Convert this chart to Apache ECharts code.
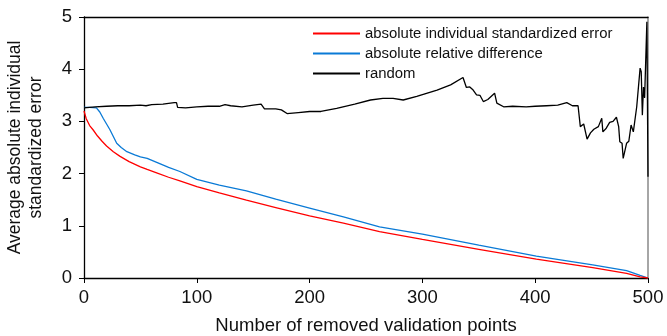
<!DOCTYPE html>
<html><head><meta charset="utf-8">
<script src="https://cdn.jsdelivr.net/npm/echarts@6/dist/echarts.min.js"></script>
<style>html,body{margin:0;padding:0;background:#fff}#c{width:667px;height:336px}</style>
</head><body><div id="c"></div>
<script>
const xTicks = [0, 100, 200, 300, 400, 500];
const yTicks = [0, 1, 2, 3, 4, 5];

const redX = [0,2,5,8,12,16,20,26,32,40,50,56,65,75,85,100,120,144,170,200,230,262,300,350,401,451,481,493,500];
const redY = [3.20,3.05,2.92,2.84,2.72,2.62,2.53,2.42,2.33,2.23,2.13,2.08,2.01,1.93,1.86,1.75,1.63,1.49,1.35,1.19,1.05,0.89,0.74,0.55,0.36,0.20,0.09,0.02,0.00];

const blueX = [0,5,11,14,17,20,23,26,29,33,38,45,50,56,65,75,85,100,120,144,170,200,230,262,300,350,401,451,481,493,500];
const blueY = [3.27,3.27,3.26,3.18,3.06,2.95,2.84,2.71,2.58,2.50,2.42,2.36,2.32,2.29,2.21,2.12,2.04,1.89,1.78,1.67,1.51,1.34,1.17,0.98,0.84,0.63,0.42,0.25,0.14,0.05,0.00];

const blackX = [0,10,20,30,40,50,55,60,70,80,82,83,90,100,110,120,125,130,140,150,157,160,170,175,180,190,200,210,224,240,254,265,274,283,295,313,325,336,337,339,342,345,348,351,354,358,364,366,372,380,392,400,410,420,428,433,438,440,443,446,449,452,456,459,460,463,466,469,472,474,475,477,478,481,483,485,487,490,493,494,495,496,497,499,500];
const blackY = [3.26,3.28,3.29,3.30,3.30,3.31,3.30,3.32,3.33,3.36,3.36,3.27,3.26,3.28,3.29,3.29,3.32,3.30,3.28,3.31,3.33,3.24,3.24,3.22,3.15,3.17,3.19,3.19,3.25,3.33,3.41,3.44,3.44,3.41,3.48,3.60,3.70,3.84,3.84,3.65,3.66,3.60,3.51,3.50,3.38,3.42,3.54,3.35,3.28,3.29,3.28,3.29,3.30,3.31,3.36,3.30,3.30,2.90,2.95,2.66,2.78,2.85,2.90,3.06,2.80,2.87,2.98,3.00,3.08,2.90,2.61,2.58,2.29,2.58,2.62,2.93,2.80,3.28,4.02,3.95,3.12,3.66,3.45,4.91,1.94];

const names = ['absolute individual standardized error','absolute relative difference','random'];
const pair = (xs, ys) => xs.map((x, i) => [x, ys[i]]);
const font = 'Liberation Sans, Arial, sans-serif';

const chart = echarts.init(document.getElementById('c'), null, {renderer: 'canvas'});
chart.setOption({
  animation: false,
  backgroundColor: '#fff',
  textStyle: {fontFamily: font},
  grid: {left: 84, right: 19, top: 17, bottom: 58, containLabel: false, outerBoundsMode: 'none'},
  legend: {
    left: 308, top: 21, orient: 'vertical', itemGap: 5,
    itemWidth: 47, itemHeight: 2, icon: 'rect',
    textStyle: {fontFamily: font, fontSize: 14.9, color: '#111'},
    data: names
  },
  xAxis: [{
    type: 'value', min: xTicks[0], max: xTicks[xTicks.length-1], interval: 100,
    name: 'Number of removed validation points', nameLocation: 'middle', nameGap: 38,
    nameTextStyle: {fontSize: 18.5, color: '#111', fontFamily: font},
    axisLine: {show: true, lineStyle: {color: '#000', width: 1.3}},
    axisTick: {show: true, inside: false, length: 5, lineStyle: {color: '#000'}},
    axisLabel: {fontSize: 18.5, color: '#111', margin: 10, fontFamily: font},
    splitLine: {show: false}
  }, {
    type: 'value', position: 'top', min: 0, max: 500,
    axisLine: {show: true, onZero: false, lineStyle: {color: '#000', width: 1.3}},
    axisTick: {show: false}, axisLabel: {show: false}, splitLine: {show: false}
  }],
  yAxis: [{
    type: 'value', min: yTicks[0], max: yTicks[yTicks.length-1], interval: 1,
    name: 'Average absolute individual\nstandardized error', nameLocation: 'middle', nameGap: 37,
    nameTextStyle: {fontSize: 17.5, color: '#111', lineHeight: 21, fontFamily: font},
    axisLine: {show: true, lineStyle: {color: '#000', width: 1.3}},
    axisTick: {show: true, inside: false, length: 5, lineStyle: {color: '#000'}},
    axisLabel: {fontSize: 18.5, color: '#111', margin: 12, fontFamily: font},
    splitLine: {show: false}
  }, {
    type: 'value', position: 'right', min: 0, max: 5,
    axisLine: {show: true, onZero: false, lineStyle: {color: '#888', width: 1.5}},
    axisTick: {show: false}, axisLabel: {show: false}, splitLine: {show: false}
  }],
  series: [
    {name: names[0], type: 'line', data: pair(redX, redY), showSymbol: false, symbol: 'none',
     lineStyle: {color: '#ff0000', width: 1.3}, itemStyle: {color: '#ff0000'}, z: 4},
    {name: names[1], type: 'line', data: pair(blueX, blueY), showSymbol: false, symbol: 'none',
     lineStyle: {color: '#0a7ad6', width: 1.3}, itemStyle: {color: '#0a7ad6'}, z: 3},
    {name: names[2], type: 'line', data: pair(blackX, blackY), showSymbol: false, symbol: 'none',
     lineStyle: {color: '#000', width: 1.3}, itemStyle: {color: '#000'}, z: 5}
  ]
});
</script></body></html>
